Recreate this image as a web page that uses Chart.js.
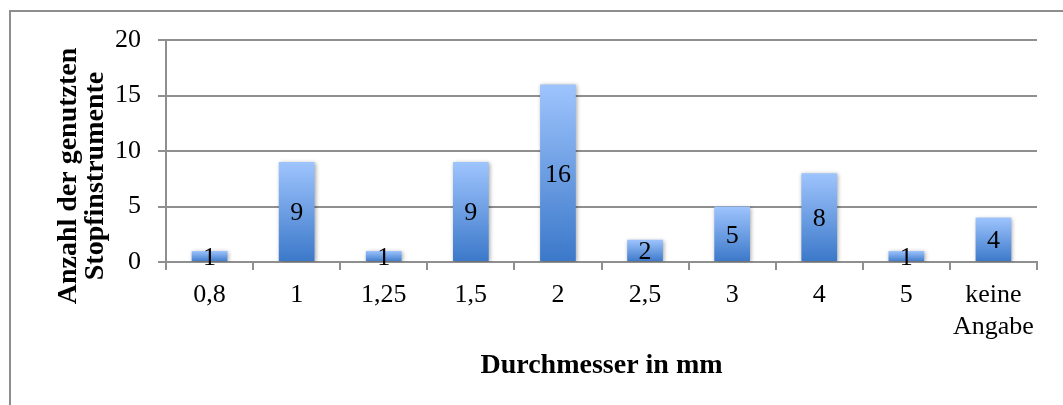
<!DOCTYPE html>
<html>
<head>
<meta charset="utf-8">
<script src="https://cdn.jsdelivr.net/npm/chart.js@4/dist/chart.umd.min.js"></script>
<style>
  html, body { margin: 0; padding: 0; background: #fff; overflow: hidden; }
  #wrap { position: relative; width: 1063px; height: 405px; }
</style>
</head>
<body>
<div id="wrap"><canvas id="chart" width="1063" height="405"></canvas></div>
<script>
// Durchmesser der Stopfinstrumente und Anzahl der Nennungen
const categories = ['0,8', '1', '1,25', '1,5', '2', '2,5', '3', '4', '5', ['keine', 'Angabe']];
const counts = [1, 9, 1, 9, 16, 2, 5, 8, 1, 4];
const yTicks = [0, 5, 10, 15, 20];
const yTitleLines = ['Anzahl der genutzten', 'Stopfinstrumente'];
const xTitle = 'Durchmesser in mm';

const SERIF = '"Liberation Serif", "Times New Roman", serif';
const GRID = '#8f8f8f';

// vertical gradient per bar: light blue at the top, deeper blue at the base
function barGradient(ctx) {
  const chart = ctx.chart;
  if (!chart.chartArea || ctx.raw == null) return '#6a9de6';
  const y = chart.scales.y;
  const top = y.getPixelForValue(ctx.raw);
  const base = y.getPixelForValue(0);
  const g = chart.ctx.createLinearGradient(0, top, 0, base);
  g.addColorStop(0, '#9ec4fd');
  g.addColorStop(1, '#3b78c9');
  return g;
}

// frame around the chart and soft shadow under the bars
const framePlugin = {
  id: 'frame',
  beforeDraw(chart) {
    const c = chart.ctx;
    c.save();
    c.fillStyle = '#fff';
    c.fillRect(0, 0, chart.width, chart.height);
    c.strokeStyle = '#8e8e8e';
    c.lineWidth = 2;
    c.beginPath();
    c.moveTo(10, chart.height + 2);
    c.lineTo(10, 11);
    c.lineTo(chart.width + 2, 11);
    c.stroke();
    c.restore();
  },
  beforeDatasetDraw(chart) {
    const c = chart.ctx;
    c.save();
    c.shadowColor = 'rgba(0,0,0,0.35)';
    c.shadowBlur = 4;
    c.shadowOffsetX = 1;
    c.shadowOffsetY = 1;
  },
  afterDatasetDraw(chart) {
    chart.ctx.restore();
  }
};

// value labels centred in each bar, plus the two-line y axis title
const labelPlugin = {
  id: 'valueLabels',
  afterDatasetsDraw(chart) {
    const c = chart.ctx;
    const meta = chart.getDatasetMeta(0);
    c.save();
    c.font = '26px ' + SERIF;
    c.fillStyle = '#000';
    c.textAlign = 'center';
    c.textBaseline = 'middle';
    meta.data.forEach((bar, i) => {
      const v = chart.data.datasets[0].data[i];
      const mid = (bar.y + bar.base) / 2;
      c.fillText(String(v), bar.x, mid + 2);
    });
    c.restore();

    // y axis title, rotated, two lines
    c.save();
    c.font = 'bold 28px ' + SERIF;
    c.fillStyle = '#000';
    c.textAlign = 'center';
    c.textBaseline = 'middle';
    c.translate(0, 176);
    c.rotate(-Math.PI / 2);
    c.fillText(yTitleLines[0], 0, 69);
    c.fillText(yTitleLines[1], 0, 96);
    c.restore();
  }
};

new Chart(document.getElementById('chart'), {
  type: 'bar',
  data: {
    labels: categories,
    datasets: [{
      data: counts,
      backgroundColor: barGradient,
      borderWidth: 0,
      barPercentage: 0.41,
      categoryPercentage: 1.0
    }]
  },
  options: {
    responsive: false,
    animation: false,
    events: [],
    layout: { padding: { top: 40, right: 26, bottom: 0, left: 0 } },
    plugins: { legend: { display: false }, tooltip: { enabled: false } },
    scales: {
      x: {
        offset: true,
        grid: {
          display: true,
          offset: true,
          drawOnChartArea: false,
          drawTicks: true,
          tickLength: 8,
          color: GRID,
          lineWidth: 2
        },
        border: { display: true, color: GRID, width: 2 },
        ticks: {
          color: '#000',
          padding: 9,
          maxRotation: 0,
          autoSkip: false,
          font: { family: SERIF, size: 26, lineHeight: 1.23 }
        },
        title: {
          display: true,
          text: xTitle,
          color: '#000',
          font: { family: SERIF, size: 28, weight: 'bold', lineHeight: 1.2 },
          padding: { top: 0, bottom: 22 }
        },
        afterFit(scale) { scale.height = 143; }
      },
      y: {
        min: 0,
        max: 20,
        afterBuildTicks(scale) { scale.ticks = yTicks.map(v => ({ value: v })); },
        grid: {
          color: GRID,
          lineWidth: 2,
          drawTicks: true,
          tickLength: 8
        },
        border: { display: true, color: GRID, width: 2 },
        ticks: {
          color: '#000',
          padding: 17,
          font: { family: SERIF, size: 26 }
        },
        afterFit(scale) { scale.width = 166; }
      }
    }
  },
  plugins: [framePlugin, labelPlugin]
});
</script>
</body>
</html>
